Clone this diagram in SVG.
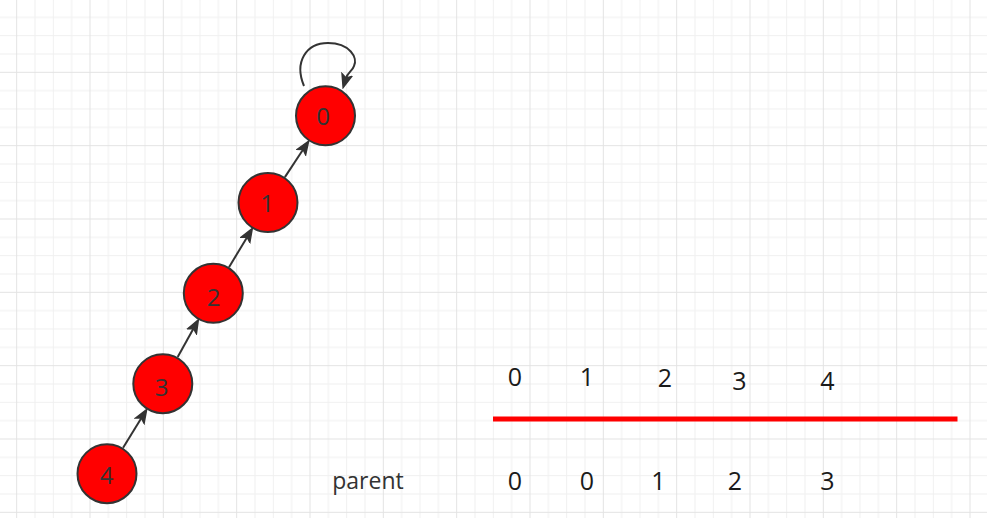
<svg xmlns="http://www.w3.org/2000/svg" width="987" height="518" viewBox="0 0 987 518">
<style>
.node circle{fill:#ff0000;stroke:#333;stroke-width:2}
.node text{font-family:"Open Sans","Noto Sans",sans-serif;font-size:24px;fill:#333;text-anchor:middle}
.edge{fill:none;stroke:#333;stroke-width:2}
.lbl{font-family:"Open Sans","Noto Sans",sans-serif;font-size:25px;fill:#1a1a1a;text-anchor:middle}
.minor{fill:#f0f0f0}
.major{fill:#e3e3e3}
</style>
<defs>
<pattern id="grid" patternUnits="userSpaceOnUse" x="16.17" y="-1.5" width="73.333" height="73.333">
<rect class="minor" x="18.333" y="0" width="1" height="73.333"/>
<rect class="minor" x="36.667" y="0" width="1" height="73.333"/>
<rect class="minor" x="55" y="0" width="1" height="73.333"/>
<rect class="minor" x="0" y="18.333" width="73.333" height="1"/>
<rect class="minor" x="0" y="36.667" width="73.333" height="1"/>
<rect class="minor" x="0" y="55" width="73.333" height="1"/>
<rect class="major" x="0" y="0" width="1" height="73.333"/>
<rect class="major" x="0" y="0" width="73.333" height="1"/>
</pattern>
<marker id="arr" markerUnits="userSpaceOnUse" markerWidth="16" markerHeight="14" refX="4" refY="7" orient="auto" viewBox="0 0 16 14">
<path d="M1,2 L14,7 L1,12 L4,7 Z" fill="#333" stroke="#333" stroke-width="1.5" stroke-linejoin="miter"/>
</marker>
</defs>
<rect x="0" y="0" width="987" height="518" fill="#ffffff"/>
<rect x="0" y="0" width="987" height="518" fill="url(#grid)"/>

<g id="connectors">
<path class="edge" d="M123.1,447.8 L141.4,418.1" marker-end="url(#arr)"/>
<path class="edge" d="M177.7,357.1 L193.5,328.6" marker-end="url(#arr)"/>
<path class="edge" d="M229,267.2 L247.1,237.2" marker-end="url(#arr)"/>
<path class="edge" d="M284.9,177.1 L303.1,149.5" marker-end="url(#arr)"/>
<path class="edge" d="M304,86 C294,62 306,43 328,43 C350,43 358,58 354,66 C353,70 347.5,73 346,78" marker-end="url(#arr)"/>
</g>

<g id="node0" class="node"><circle cx="325.5" cy="115.8" r="29.5"/><text x="323" y="125">0</text></g>
<g id="node1" class="node"><circle cx="268" cy="202.5" r="29.5"/><text x="267" y="211.5">1</text></g>
<g id="node2" class="node"><circle cx="213.3" cy="293.3" r="29.5"/><text x="213.5" y="306">2</text></g>
<g id="node3" class="node"><circle cx="162.8" cy="383.7" r="29.5"/><text x="161.7" y="396">3</text></g>
<g id="node4" class="node"><circle cx="107" cy="473.7" r="29.5"/><text x="106.7" y="484">4</text></g>

<g id="table">
<text class="lbl" x="515" y="386">0</text>
<text class="lbl" x="587" y="386">1</text>
<text class="lbl" x="665" y="386.5">2</text>
<text class="lbl" x="739.5" y="390">3</text>
<text class="lbl" x="827.5" y="390">4</text>
<line x1="493" y1="419" x2="957.5" y2="419" stroke="#ff0000" stroke-width="5"/>
<text x="368" y="488.5" font-family="'Open Sans','Noto Sans',sans-serif" font-size="23" fill="#333" text-anchor="middle">parent</text>
<text class="lbl" x="515" y="490">0</text>
<text class="lbl" x="587" y="490">0</text>
<text class="lbl" x="658.5" y="490">1</text>
<text class="lbl" x="735" y="490">2</text>
<text class="lbl" x="827.5" y="490">3</text>
</g>
</svg>
